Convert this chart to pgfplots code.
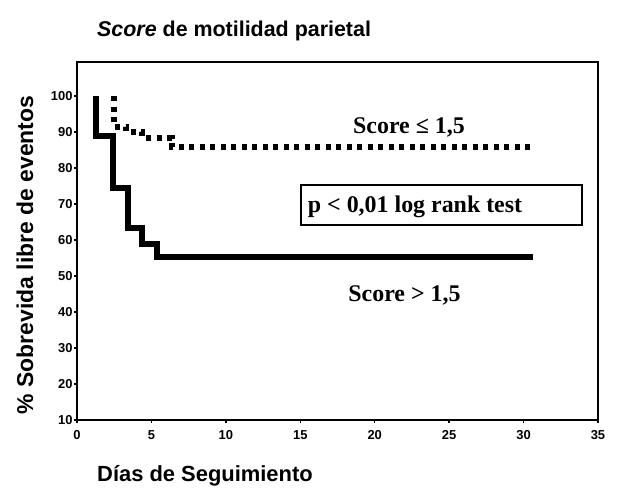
\documentclass[border=0pt]{standalone}
\usepackage{pgfplots}
\pgfplotsset{compat=1.18}
\usepackage{fontspec}
\setmainfont{Liberation Serif}
\newfontfamily\arialf{Liberation Sans}
\begin{document}
\begin{tikzpicture}
\useasboundingbox (-77bp,-68bp) rectangle (546bp,420bp);
\begin{axis}[
  scale only axis,
  width=521bp, height=358bp,
  xmin=0, xmax=35, ymin=10, ymax=109.5,
  xtick={0,5,...,35}, ytick={10,20,...,100},
  axis line style={line width=1.1bp},
  tick style={line width=1.5bp, black},
  tick align=outside,
  major tick length=3bp,
  xtick pos=bottom, ytick pos=left,
  /pgf/number format/assume math mode=true,
  tick label style={font=\arialf\bfseries\fontsize{13}{14}\selectfont},
  yticklabel style={xshift=2bp},
  xticklabel style={yshift=-4bp},
  clip=false,
]
\addplot[const plot, line width=6bp, black] coordinates {
  (1.3,100) (1.3,89) (2.4,74.5) (3.4,63.5) (4.4,59) (5.4,55.3) (30.6,55.3)
};
\addplot[const plot, line width=6bp, black, dash pattern=on 5bp off 5.5bp] coordinates {
  (2.5,100) (2.5,91.5) (3.3,90) (4.4,88.5) (6.4,85.8) (30.8,85.8)
};
\node[anchor=base, font=\bfseries\fontsize{24}{28}\selectfont] at (axis cs:22.3,89.7) {Score ≤ 1,5};
\node[anchor=base, font=\bfseries\fontsize{24}{28}\selectfont] at (axis cs:22.0,42.8) {Score > 1,5};
\draw[line width=1.8bp] (axis cs:15.03,64.2) rectangle (axis cs:33.9,75.3);
\node[anchor=base west, inner sep=0pt, font=\bfseries\fontsize{24}{28}\selectfont] at (axis cs:15.5,67.8) {p < 0,01 log rank test};
\end{axis}
\node[anchor=base west, font=\arialf\bfseries\fontsize{21.5}{24}\selectfont, inner sep=0pt] at (20bp,383bp) {\textit{Score} de motilidad parietal};
\node[anchor=base west, font=\arialf\bfseries\fontsize{22}{26}\selectfont, inner sep=0pt] at (20bp,-61bp) {Días de Seguimiento};
\node[rotate=90, font=\arialf\bfseries\fontsize{23}{26}\selectfont] at (-52bp,165bp) {\% Sobrevida libre de eventos};
\end{tikzpicture}
\end{document}
